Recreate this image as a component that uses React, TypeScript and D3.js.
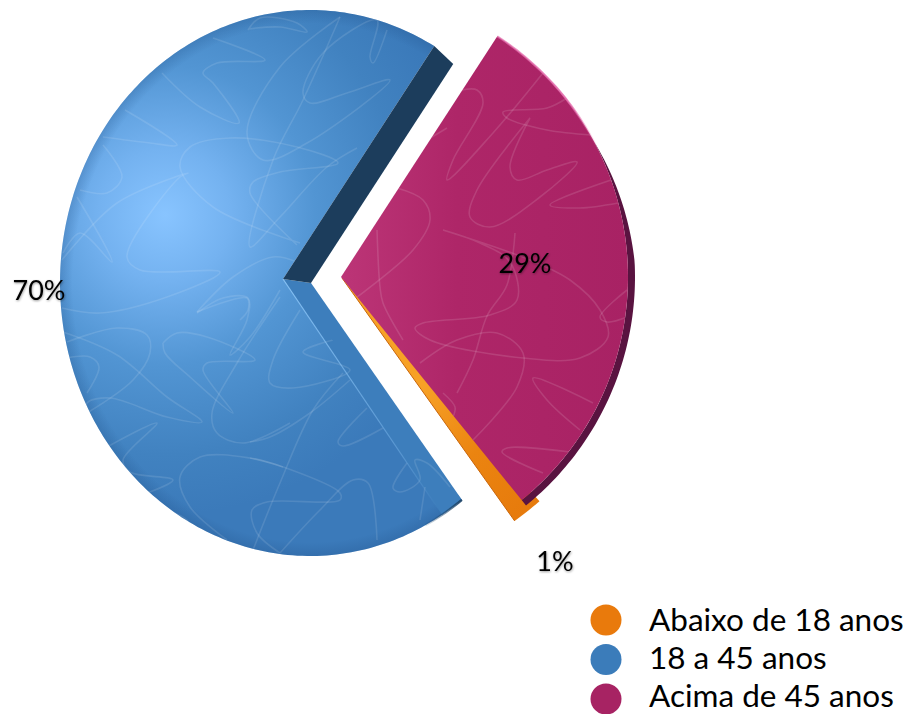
import React from "react";
import * as d3 from "d3";

// Age groups, in pie order
const categories = ["Abaixo de 18 anos", "18 a 45 anos", "Acima de 45 anos"];
const shares = [1, 70, 29];
const shareLabels = ["1%", "70%", "29%"];
const legendColors = ["#E97A0C", "#3B7CBA", "#A72363"];

// Squiggle texture on the blue slice (picture coordinates)
const blueSquiggles: [number, number][][] = [
  [[248,30],[260,18],[297,23],[307,32],[280,27],[248,29]],
  [[162,73],[200,107],[239,123],[213,83],[203,73],[217,63],[265,60],[213,38]],
  [[340,17],[280,67],[247,133],[263,160],[307,143],[390,80],[347,93],[310,103],[303,93],[323,53],[377,20],[370,57],[373,63],[387,30]],
  [[340,17],[303,100],[273,160],[250,247],[280,217],[327,167],[357,148]],
  [[300,243],[213,207],[180,167],[190,147],[230,138],[297,147],[338,163],[280,172],[253,182],[250,193],[297,245]],
  [[125,110],[177,145],[150,143],[103,137]],
  [[103,145],[122,177],[107,193],[80,190]],
  [[62,260],[117,203],[188,173],[180,177],[127,257],[140,270],[220,272],[167,297],[100,313],[62,308]],
  [[77,197],[112,262],[80,233],[63,253]],
  [[197,312],[233,277],[273,257],[297,262]],
  [[197,312],[247,298],[248,310],[240,320]],
  [[63,332],[117,355],[167,397],[202,422],[167,417],[110,398],[87,403],[87,413]],
  [[67,342],[117,328],[147,335],[150,353],[133,380],[87,413]],
  [[67,358],[90,357],[99,367],[87,393]],
  [[107,447],[157,423],[123,460],[130,472],[173,480],[147,493]],
  [[283,467],[250,458],[200,457],[180,477],[190,507],[227,540]],
  [[167,510],[187,520],[190,527]],
  [[163,343],[177,333],[207,337],[255,360],[207,363],[203,370],[233,413],[190,377],[165,353],[163,343]],
  [[197,313],[223,298],[248,298],[247,320],[230,355],[250,337],[280,290]],
  [[290,423],[243,443],[217,433],[212,413],[237,363],[280,297]],
  [[300,310],[273,360],[270,383],[293,388],[350,370],[303,352],[333,340]],
  [[350,380],[310,413],[270,437],[250,442]],
  [[367,408],[338,442],[343,446],[383,428]],
  [[343,373],[313,410],[280,483],[253,550]],
  [[250,458],[283,467],[340,493],[340,500],[267,502],[252,510],[257,533],[280,553]],
  [[280,553],[320,510],[353,480],[368,483],[377,540]],
  [[407,463],[393,488],[400,492],[420,480],[415,460],[427,463],[450,487]],
  [[425,487],[420,520]],
];

// Squiggle texture on the magenta slice (picture coordinates)
const magentaSquiggles: [number, number][][] = [
  [[567,98],[547,108],[503,112],[507,118],[547,130],[592,135]],
  [[543,73],[493,133],[447,180],[453,160],[483,103],[477,90],[462,90]],
  [[530,118],[477,190],[470,217],[490,227],[540,197],[577,162],[547,170],[517,180],[510,167],[530,118]],
  [[617,178],[550,205],[580,208],[618,203]],
  [[397,188],[423,200],[430,220],[413,250],[357,297]],
  [[377,230],[380,287],[383,303],[403,340]],
  [[443,230],[480,243],[510,262],[517,300],[490,315],[423,323],[415,328],[430,340],[523,358],[580,358],[608,337],[600,310],[570,280],[530,260],[443,230]],
  [[515,233],[507,285],[487,316],[473,360],[457,393]],
  [[420,363],[457,340],[497,333],[523,353],[517,387],[473,440]],
  [[593,403],[533,378],[547,400],[580,430]],
  [[543,473],[502,452],[507,448],[570,452]],
  [[443,393],[455,407],[453,417]],
  [[627,290],[600,317],[607,322],[627,317]],
  [[447,128],[427,140]],
];

const DEG = Math.PI / 180;

type Pt = [number, number];
type Rim = { ax: number; ay: number; cx: number; cy: number; rx: number; ry: number };

// Where a ray leaving the slice apex at a clock angle meets its elliptical rim
function rimPoint(rim: Rim, angle: number, extra = 0): Pt {
  const dx = Math.sin(angle);
  const dy = -Math.cos(angle);
  const ox = (rim.ax - rim.cx) / rim.rx;
  const oy = (rim.ay - rim.cy) / rim.ry;
  const ux = dx / rim.rx;
  const uy = dy / rim.ry;
  const a = ux * ux + uy * uy;
  const b = 2 * (ox * ux + oy * uy);
  const c = ox * ox + oy * oy - 1;
  const t = (-b + Math.sqrt(b * b - 4 * a * c)) / (2 * a) + extra;
  return [rim.ax + dx * t, rim.ay + dy * t];
}

function arcPoints(rim: Rim, a0: number, a1: number, extra: (a: number) => number = () => 0): Pt[] {
  const n = Math.max(2, Math.ceil(Math.abs(a1 - a0) / (1 * DEG)));
  return d3.range(n + 1).map((i) => {
    const a = a0 + ((a1 - a0) * i) / n;
    return rimPoint(rim, a, extra(a));
  });
}

const closed = d3.line<Pt>().curve(d3.curveLinearClosed);
const open = d3.line<Pt>();
const squiggle = d3.line<[number, number]>().curve(d3.curveCatmullRom.alpha(0.5));

const blueRim: Rim = { ax: 283, ay: 279, cx: 310, cy: 283, rx: 250, ry: 273 };
const magentaRim: Rim = { ax: 341, ay: 277, cx: 341, cy: 277, rx: 287, ry: 287 };
const orangeRim: Rim = { ax: 342, ay: 278, cx: 342, cy: 278, rx: 298, ry: 298 };

export default function App() {
  // The pie starts with the small slice so that the magenta one opens at the upper right
  const pie = d3.pie<number>().sort(null).startAngle(137.4 * DEG).endAngle((137.4 + 360) * DEG);
  const [orange, blue, magenta] = pie(shares);
  const turn = 2 * Math.PI;

  const blueFace = [[blueRim.ax, blueRim.ay] as Pt, ...arcPoints(blueRim, blue.startAngle, blue.endAngle)];
  const blueTop = rimPoint(blueRim, blue.endAngle);
  const blueLow = rimPoint(blueRim, blue.startAngle);
  const blueRidge = rimPoint(blueRim, blue.startAngle + 5 * DEG);
  const apex: Pt = [blueRim.ax, blueRim.ay];
  const notch: Pt = [blueRim.ax + 28, blueRim.ay + 4];
  const darkSide: Pt[] = [apex, notch, [blueTop[0] + 19, blueTop[1] + 18], blueTop];
  const lowSide: Pt[] = [apex, notch, blueLow, blueRidge];

  // The magenta face runs over the sliver, which only shows below its edge and past its rim
  const magentaStart = magenta.startAngle - turn;
  const magentaEnd = orange.endAngle;
  const magentaFace = [[magentaRim.ax, magentaRim.ay] as Pt, ...arcPoints(magentaRim, magentaStart, magentaEnd)];
  const edgeStart = 62 * DEG;
  const thickness = (a: number) => 7 * Math.min(1, Math.max(0, (a - edgeStart) / (25 * DEG)));
  const magentaSide: Pt[] = [
    ...arcPoints(magentaRim, edgeStart, magentaEnd, thickness),
    ...arcPoints(magentaRim, magentaEnd, edgeStart),
  ];

  const orangeFace: Pt[] = [
    [orangeRim.ax, orangeRim.ay],
    ...arcPoints(orangeRim, orange.startAngle + 1.1 * DEG, orange.endAngle + 3.6 * DEG),
  ];
  const orangeEdgeEnd = rimPoint(orangeRim, orange.endAngle + 3.6 * DEG);

  const textStyle = { fontFamily: "Lato, 'Open Sans', sans-serif", fill: "#000" };

  return (
    <svg width={912} height={714} style={{ position: "absolute", left: 0, top: 0, background: "#fff" }}>
      <defs>
        <radialGradient id="blueGlow" gradientUnits="userSpaceOnUse" cx={165} cy={215} r={300}>
          <stop offset="0" stopColor="#88C4FF" />
          <stop offset="0.22" stopColor="#74B2F0" />
          <stop offset="0.5" stopColor="#5295D3" />
          <stop offset="0.8" stopColor="#4182C0" />
          <stop offset="1" stopColor="#3B7ABA" />
        </radialGradient>
        <radialGradient id="blueEdge" gradientUnits="userSpaceOnUse" cx={0} cy={0} r={1}
          gradientTransform="translate(310 283) scale(250 273)">
          <stop offset="0.95" stopColor="#1E4E86" stopOpacity="0" />
          <stop offset="1" stopColor="#1E4E86" stopOpacity="0.25" />
        </radialGradient>
        <linearGradient id="magentaFill" gradientUnits="userSpaceOnUse" x1={341} y1={280} x2={630} y2={280}>
          <stop offset="0" stopColor="#BC3577" />
          <stop offset="0.4" stopColor="#AE2668" />
          <stop offset="1" stopColor="#A82264" />
        </linearGradient>
        <linearGradient id="pinkRim" gradientUnits="userSpaceOnUse" x1={497} y1={36} x2={600} y2={150}>
          <stop offset="0" stopColor="#E56EAE" stopOpacity="0.7" />
          <stop offset="0.6" stopColor="#E56EAE" stopOpacity="0.9" />
          <stop offset="1" stopColor="#E56EAE" stopOpacity="0" />
        </linearGradient>
        <linearGradient id="ridgeFade" gradientUnits="userSpaceOnUse" x1={283} y1={279} x2={431} y2={516}>
          <stop offset="0" stopColor="#8CC6F8" stopOpacity="0.9" />
          <stop offset="0.75" stopColor="#8CC6F8" stopOpacity="0.35" />
          <stop offset="1" stopColor="#8CC6F8" stopOpacity="0" />
        </linearGradient>
        <linearGradient id="blueLip" gradientUnits="userSpaceOnUse" x1={415} y1={520} x2={460} y2={497}>
          <stop offset="0" stopColor="#1D4468" stopOpacity="0" />
          <stop offset="1" stopColor="#1D4468" stopOpacity="0.95" />
        </linearGradient>
        <linearGradient id="orangeFill" gradientUnits="userSpaceOnUse" x1={420} y1={390} x2={530} y2={515}>
          <stop offset="0" stopColor="#F7A126" />
          <stop offset="0.5" stopColor="#EB8410" />
          <stop offset="1" stopColor="#E67A0C" />
        </linearGradient>
        <clipPath id="blueClip"><path d={closed(blueFace) ?? ""} /></clipPath>
        <clipPath id="magentaClip"><path d={closed(magentaFace) ?? ""} /></clipPath>
        <filter id="soft" x="-10%" y="-10%" width="120%" height="120%">
          <feGaussianBlur stdDeviation="0.6" />
        </filter>
        <filter id="labelShadow" x="-20%" y="-20%" width="140%" height="140%">
          <feDropShadow dx="0.5" dy="1" stdDeviation="1.2" floodColor="#000" floodOpacity="0.4" />
        </filter>
      </defs>

      {/* Blue slice */}
      <g>
        <path d={closed(blueFace) ?? ""} fill="url(#blueGlow)" />
        <path d={closed(blueFace) ?? ""} fill="url(#blueEdge)" />
        <path d={closed(lowSide) ?? ""} fill="#3D7EBC" />
        <g clipPath="url(#blueClip)" fill="none" stroke="#fff" strokeOpacity={0.11} strokeWidth={1.6}>
          {blueSquiggles.map((s, i) => <path key={i} d={squiggle(s) ?? ""} />)}
        </g>
        <path d={open([apex, blueRidge]) ?? ""} stroke="url(#ridgeFade)" strokeWidth={1.2} fill="none" />
        <path d={open(arcPoints(blueRim, blue.startAngle, blue.startAngle + 9 * DEG)) ?? ""}
          stroke="url(#blueLip)" strokeWidth={2.5} fill="none" filter="url(#soft)" />
        <path d={closed(darkSide) ?? ""} fill="#1C3D5C" filter="url(#soft)" />
      </g>

      {/* Sliver and magenta slice */}
      <path d={closed(orangeFace) ?? ""} fill="url(#orangeFill)" />
      <path d={open([[orangeRim.ax, orangeRim.ay], orangeEdgeEnd]) ?? ""} stroke="#C9650A" strokeWidth={1} fill="none" />
      <path d={closed(magentaSide) ?? ""} fill="#591340" />
      <path d={closed(magentaFace) ?? ""} fill="url(#magentaFill)" />
      <g clipPath="url(#magentaClip)" fill="none" stroke="#fff" strokeOpacity={0.12} strokeWidth={1.6}>
        {magentaSquiggles.map((s, i) => <path key={i} d={squiggle(s) ?? ""} />)}
      </g>
      <path d={open(arcPoints(magentaRim, magentaStart, 68 * DEG)) ?? ""} stroke="url(#pinkRim)" strokeWidth={2} fill="none" />

      {/* Share labels */}
      <g style={{ ...textStyle, fontSize: 27 }} filter="url(#labelShadow)">
        <text x={39} y={300} textAnchor="middle">{shareLabels[1]}</text>
        <text x={525} y={273} textAnchor="middle">{shareLabels[2]}</text>
        <text x={555} y={571} textAnchor="middle">{shareLabels[0]}</text>
      </g>

      {/* Legend */}
      {categories.map((c, i) => (
        <g key={c}>
          <circle cx={606} cy={620 + i * 39.5} r={15.5} fill={legendColors[i]} />
          <text x={649} y={631 + i * 38.2} style={{ ...textStyle, fontSize: 31.5 }}>{c}</text>
        </g>
      ))}
    </svg>
  );
}
